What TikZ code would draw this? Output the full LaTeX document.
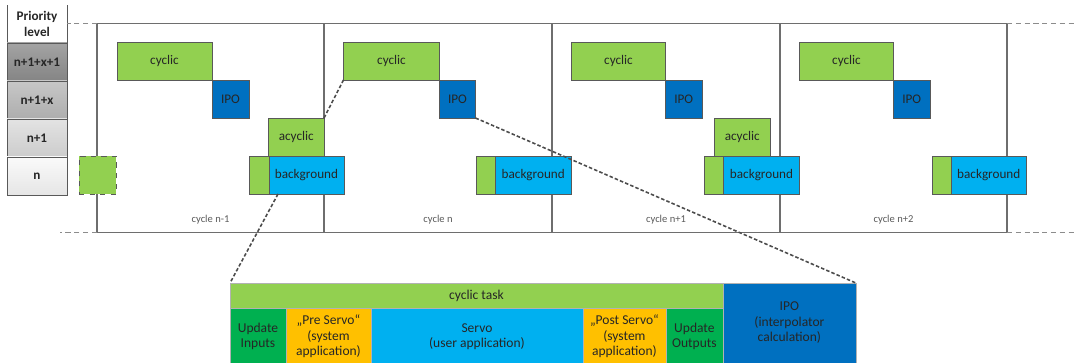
\documentclass[tikz,border=0pt]{standalone}
\usepackage{fontspec}
\setmainfont{Carlito}
\usetikzlibrary{positioning}

\definecolor{cycgreen}{HTML}{92D050}
\definecolor{ipoblue}{HTML}{0070C0}
\definecolor{bgblue}{HTML}{00B0F0}
\definecolor{updgreen}{HTML}{00B050}
\definecolor{sysorange}{HTML}{FFC000}
\definecolor{boxline}{HTML}{595959}
\definecolor{frameline}{HTML}{6E6E6E}
\definecolor{txt}{HTML}{262626}

\begin{document}
\begin{tikzpicture}[x=0.02cm, y=-0.02cm,
  blk/.style={rectangle, draw=boxline, line width=0.5pt, inner sep=0pt, outer sep=0pt, anchor=north west, minimum height=0.76cm, align=center, text=txt, font=\fontsize{7.5}{9}\selectfont},
  prio/.style={blk, minimum width=1.2cm, font=\bfseries\fontsize{7.5}{9}\selectfont},
  low/.style={blk, draw=black!30, line width=0.4pt, minimum height=1.14cm, font=\fontsize{7.7}{8.8}\selectfont},
  frame/.style={draw=frameline, line width=0.6pt},
  ext/.style={draw=black!45, line width=0.6pt, dash pattern=on 3pt off 2pt},
  zoomline/.style={draw=black!70, line width=0.9pt, dash pattern=on 2pt off 1.2pt},
  cyclbl/.style={text=black!65, font=\fontsize{6}{7}\selectfont}
]
  \useasboundingbox (0,0) rectangle (1077,362);

  % Priority level column
  \node[prio, draw=none] (head) at (7,5) {Priority\\level};
  \draw[boxline, line width=0.5pt] (head.north west) -- (head.south west) (head.north east) -- (head.south east);
  \node[prio, top color=black!36, bottom color=black!48] (p4) at (head.south west) {n+1+x+1};
  \node[prio, top color=black!22, bottom color=black!32] (p3) at (p4.south west) {n+1+x};
  \node[prio, top color=black!11, bottom color=black!20] (p2) at (p3.south west) {n+1};
  \node[prio, top color=black!2, bottom color=black!10] (p1) at (p2.south west) {n};

  % Time frame with the four cycles
  \coordinate (ftl) at (97,23.5);
  \coordinate (fbr) at (1007,232.5);
  \draw[frame] (ftl) rectangle (fbr);
  \draw[frame] (324,23.5) -- (324,232.5) (552,23.5) -- (552,232.5) (780,23.5) -- (780,232.5);
  \draw[ext] (ftl) -- (head.east |- ftl);
  \draw[ext] (ftl |- fbr) -- ++(-37,0);
  \draw[ext] (fbr |- ftl) -- ++(69,0);
  \draw[ext] (fbr) -- ++(69,0);

  \node[cyclbl] (lblA) at (210.5,220) {cycle n-1};
  \node[cyclbl] (lblB) at (438,220) {cycle n};
  \node[cyclbl] (lblC) at (666,220) {cycle n+1};
  \node[cyclbl] (lblD) at (893.5,220) {cycle n+2};

  % Cycle n-1
  \node[blk, fill=cycgreen, dashed, minimum width=0.74cm] (prev) at (79,156) {};
  \node[blk, fill=cycgreen, minimum width=1.9cm] (cycA) at (117,42) {cyclic};
  \node[blk, fill=ipoblue, minimum width=0.74cm] (ipoA) at (cycA.south east) {IPO};
  \node[blk, fill=cycgreen, minimum width=1.11cm] (acA) at (268.5,118) {acyclic};
  \node[blk, fill=cycgreen, minimum width=0.39cm] (prA) at (249.5,156) {};
  \node[blk, fill=bgblue, minimum width=1.5cm] (bgA) at (prA.north east) {background};

  % Cycle n
  \node[blk, fill=cycgreen, minimum width=1.92cm] (cycB) at (343.5,42) {cyclic};
  \node[blk, fill=ipoblue, minimum width=0.72cm] (ipoB) at (cycB.south east) {IPO};
  \node[blk, fill=cycgreen, minimum width=0.39cm] (prB) at (476,156) {};
  \node[blk, fill=bgblue, minimum width=1.51cm] (bgB) at (prB.north east) {background};

  % Cycle n+1
  \node[blk, fill=cycgreen, minimum width=1.88cm] (cycC) at (571.5,42) {cyclic};
  \node[blk, fill=ipoblue, minimum width=0.73cm] (ipoC) at (cycC.south east) {IPO};
  \node[blk, fill=cycgreen, minimum width=1.13cm] (acC) at (714,118) {acyclic};
  \node[blk, fill=cycgreen, minimum width=0.39cm] (prC) at (704,156) {};
  \node[blk, fill=bgblue, minimum width=1.52cm] (bgC) at (prC.north east) {background};

  % Cycle n+2
  \node[blk, fill=cycgreen, minimum width=1.88cm] (cycD) at (799.5,42) {cyclic};
  \node[blk, fill=ipoblue, minimum width=0.73cm] (ipoD) at (cycD.south east) {IPO};
  \node[blk, fill=cycgreen, minimum width=0.39cm] (prD) at (932,156) {};
  \node[blk, fill=bgblue, minimum width=1.49cm] (bgD) at (prD.north east) {background};

  % Detail of one cyclic task
  \node[low, fill=cycgreen, minimum width=9.86cm, minimum height=0.5cm] (task) at (230,283) {cyclic task};
  \node[low, fill=ipoblue, minimum width=2.66cm, minimum height=1.6cm] (ipoBig) at (task.north east) {IPO\\(interpolator\\calculation)};
  \node[low, fill=updgreen, minimum width=1.12cm] (updIn) at (task.south west) {Update\\Inputs};
  \node[low, fill=sysorange, minimum width=1.7cm] (preServo) at (updIn.north east) {„Pre Servo“\\(system\\application)};
  \node[low, fill=bgblue, minimum width=4.24cm] (servo) at (preServo.north east) {Servo\\(user application)};
  \node[low, fill=sysorange, minimum width=1.66cm] (postServo) at (servo.north east) {„Post Servo“\\(system\\application)};
  \node[low, fill=updgreen, minimum width=1.14cm] (updOut) at (postServo.north east) {Update\\Outputs};

  % Zoom lines
  \draw[zoomline] ([xshift=0.18cm]bgA.south west) -- (task.north west);
  \draw[zoomline] (acA.north east) -- (cycB.south west);
  \draw[zoomline] (ipoB.south east) -- (ipoBig.north east);
\end{tikzpicture}
\end{document}
